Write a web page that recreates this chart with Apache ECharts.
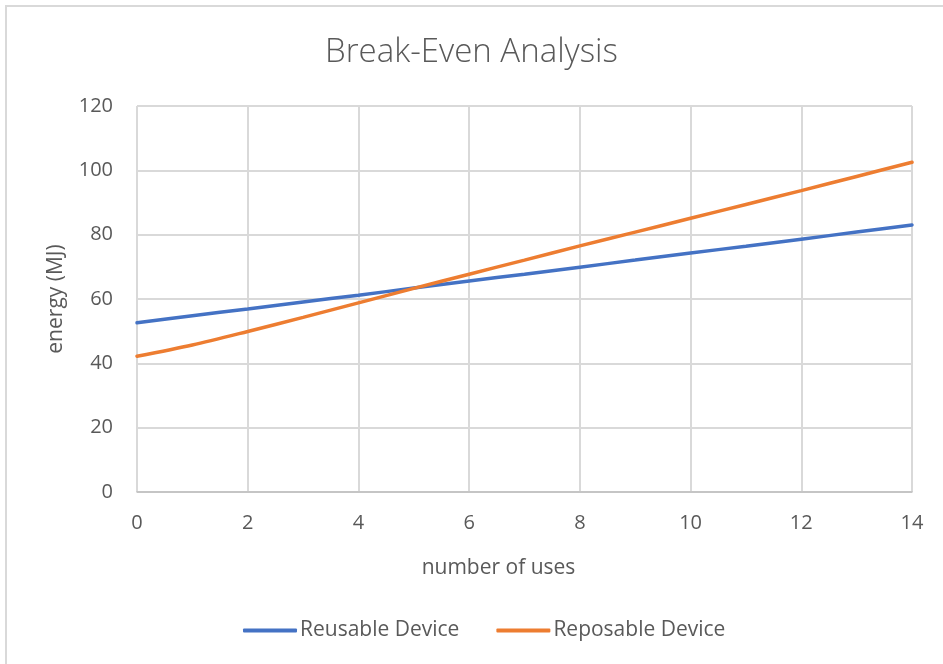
<!DOCTYPE html>
<html>
<head>
<meta charset="utf-8">
<script src="https://cdn.jsdelivr.net/npm/echarts@6/dist/echarts.min.js"></script>
<style>
  html, body { margin: 0; padding: 0; background: #fff; }
  #chart { width: 943px; height: 664px; }
</style>
</head>
<body>
<div id="chart"></div>
<script>
// Energy use per number of device uses
const uses = [0, 1, 2, 3, 4, 5, 6, 7, 8, 9, 10, 11, 12, 13, 14];
const reusable = [52.6, 54.8, 56.9, 59.1, 61.2, 63.4, 65.6, 67.7, 69.9, 72.1, 74.3, 76.4, 78.6, 80.8, 83.0];
const reposable = [42.2, 45.7, 49.9, 54.3, 58.8, 63.3, 67.7, 72.1, 76.5, 80.8, 85.1, 89.4, 93.7, 98.1, 102.5];
const seriesNames = ['Reusable Device', 'Reposable Device'];

const textColor = '#595959';
const font = '"Open Sans", "Liberation Sans", sans-serif';

const chart = echarts.init(document.getElementById('chart'), null, { renderer: 'canvas' });
chart.setOption({
  backgroundColor: '#fff',
  animation: false,
  graphic: [{
    type: 'rect',
    shape: { x: 6, y: 6, width: 1000, height: 1000 },
    style: { fill: 'none', stroke: '#d9d9d9', lineWidth: 2 },
    silent: true
  }],
  title: {
    text: 'Break-Even Analysis',
    left: 'center',
    top: 31,
    padding: [5, 5, 5, 27],
    textStyle: { fontFamily: font, fontWeight: 300, fontSize: 33, color: textColor }
  },
  grid: { left: 137, right: 31, top: 106, bottom: 172 },
  legend: {
    bottom: 18,
    left: 238,
    itemWidth: 54,
    itemHeight: 4,
    itemGap: 37,
    icon: 'roundRect',
    textStyle: { fontFamily: font, fontSize: 21, color: textColor, padding: [0, 0, 0, -2] },
    data: seriesNames
  },
  xAxis: {
    type: 'value',
    min: 0,
    max: 14,
    interval: 2,
    name: 'number of uses',
    nameLocation: 'middle',
    nameGap: 66,
    nameTextStyle: { fontFamily: font, fontSize: 21, color: textColor, padding: [0, 52, 0, 0] },
    axisLine: { show: true, lineStyle: { color: '#bfbfbf', width: 1.5 } },
    axisTick: { show: false },
    axisLabel: { margin: 21, fontFamily: font, fontSize: 20, color: textColor },
    splitLine: { show: true, lineStyle: { color: '#d9d9d9', width: 2 } }
  },
  yAxis: {
    type: 'value',
    min: 0,
    max: 120,
    interval: 20,
    name: 'energy (MJ)',
    nameLocation: 'middle',
    nameGap: 70,
    nameRotate: 90,
    nameTextStyle: { fontFamily: font, fontSize: 21, color: textColor },
    axisLine: { show: false },
    axisTick: { show: false },
    axisLabel: { margin: 24, fontFamily: font, fontSize: 20, color: textColor },
    splitLine: { show: true, lineStyle: { color: '#d9d9d9', width: 2 } }
  },
  series: [
    {
      name: seriesNames[0],
      type: 'line',
      data: uses.map((u, i) => [u, reusable[i]]),
      smooth: 0.3,
      showSymbol: false,
      lineStyle: { color: '#4472C4', width: 3.5, cap: 'round' },
      itemStyle: { color: '#4472C4' }
    },
    {
      name: seriesNames[1],
      type: 'line',
      data: uses.map((u, i) => [u, reposable[i]]),
      smooth: 0.3,
      showSymbol: false,
      lineStyle: { color: '#ED7D31', width: 3.5, cap: 'round' },
      itemStyle: { color: '#ED7D31' }
    }
  ]
});
</script>
</body>
</html>
